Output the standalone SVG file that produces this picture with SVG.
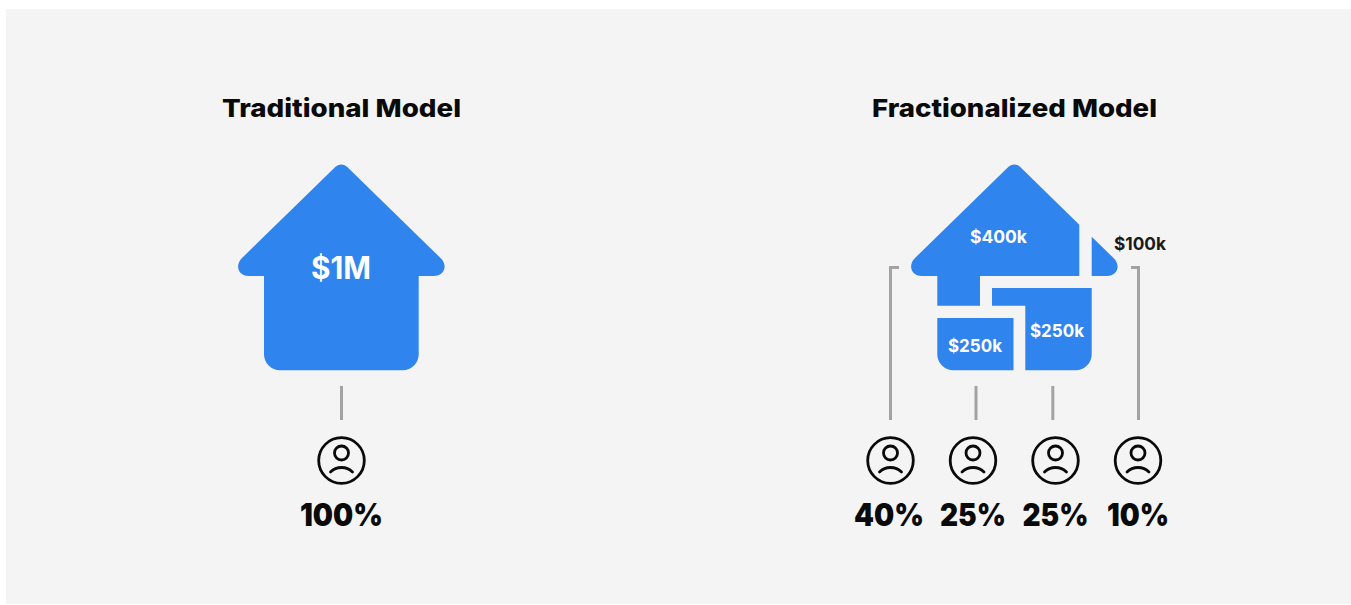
<svg xmlns="http://www.w3.org/2000/svg" width="1351" height="605" viewBox="0 0 1351 605">
<style>
.h{fill:#2f84ed}
.t{font-family:Inter,"Liberation Sans",sans-serif;font-weight:700;text-anchor:middle}
.title{font-size:25px;fill:#0a0a0a;font-weight:800}
.pct{font-size:31px;fill:#0a0a0a;font-weight:900}
.w{fill:#fff}
.c{fill:none;stroke:#a3a3a3;stroke-width:3}
.p{fill:none;stroke:#0a0a0a;stroke-width:2.8;stroke-linecap:round}
</style>
<defs>
<g id="person">
<circle class="p" cx="0" cy="0" r="22.8"/>
<circle class="p" cx="0" cy="-7.500" r="7"/>
<path class="p" d="M-11 11.500C-5 5.500 5 5.500 11 11.500"/>
</g>
</defs>
<rect x="6" y="9" width="1345" height="595" fill="#f4f4f4"/>
<g id="connectors">
<path class="c" d="M341.500 386V420"/>
<path class="c" d="M899 267.500H890.500V420"/>
<path class="c" d="M976 386V420"/>
<path class="c" d="M1052.800 386V420"/>
<path class="c" d="M1131 267.500H1138.500V420"/>
</g>
<g id="traditional">
<text class="t title" x="341.500" y="116.500" textLength="239" lengthAdjust="spacingAndGlyphs">Traditional Model</text>
<path class="h" d="M335.500 166.800Q341.300 162 347 166.800L440.500 258C448.500 265.500 444 276 434 276H418.700V354.300A16 16 0 0 1 402.700 370.300H280A16 16 0 0 1 264 354.300V276H248.500C238.500 276 234.500 265.500 242 258Z"/>
<text class="t w" x="341" y="279" font-size="31" font-weight="800" textLength="60" lengthAdjust="spacingAndGlyphs">$1M</text>
<use href="#person" x="341.500" y="460.500"/>
<text class="t pct" x="341.500" y="526" textLength="83" lengthAdjust="spacingAndGlyphs">100%</text>
</g>
<g id="piece-400k">
<path class="h" d="M1008.500 166.800Q1014.300 162 1020 166.800L1079.300 224.700V276H980V305.700H937.300V276H921.500C911.500 276 907.500 265.500 915 258Z"/>
<text class="t w" x="998.500" y="243" font-size="17.500" font-weight="800">$400k</text>
</g>
<g id="piece-100k">
<path class="h" d="M1091.700 236.700L1113.500 258C1121.500 265.500 1117 276 1107 276H1091.700Z"/>
<text class="t" x="1140" y="249.500" font-size="17.500" font-weight="800" fill="#1a1a1a" textLength="52" lengthAdjust="spacingAndGlyphs">$100k</text>
</g>
<g id="piece-250k-a">
<path class="h" d="M937.300 318H1013.500V370.300H953.300A16 16 0 0 1 937.300 354.300Z"/>
<text class="t w" x="975" y="351.500" font-size="17.500" font-weight="800" textLength="54" lengthAdjust="spacingAndGlyphs">$250k</text>
</g>
<g id="piece-250k-b">
<path class="h" d="M992 288H1091.700V354.300A16 16 0 0 1 1075.700 370.300H1025.300V305.700H992Z"/>
<text class="t w" x="1057" y="336.500" font-size="17.500" font-weight="800" textLength="54" lengthAdjust="spacingAndGlyphs">$250k</text>
</g>
<g id="owner-40"><use href="#person" x="890.500" y="460.500"/><text class="t pct" x="889" y="526" textLength="70" lengthAdjust="spacingAndGlyphs">40%</text></g>
<g id="owner-25a"><use href="#person" x="973" y="460.500"/><text class="t pct" x="973" y="526" textLength="66" lengthAdjust="spacingAndGlyphs">25%</text></g>
<g id="owner-25b"><use href="#person" x="1055.500" y="460.500"/><text class="t pct" x="1055.500" y="526" textLength="66" lengthAdjust="spacingAndGlyphs">25%</text></g>
<g id="owner-10"><use href="#person" x="1138" y="460.500"/><text class="t pct" x="1138" y="526" textLength="62" lengthAdjust="spacingAndGlyphs">10%</text></g>
<text id="title-fractionalized" class="t title" x="1014.500" y="116.500" textLength="285" lengthAdjust="spacingAndGlyphs">Fractionalized Model</text>
</svg>
